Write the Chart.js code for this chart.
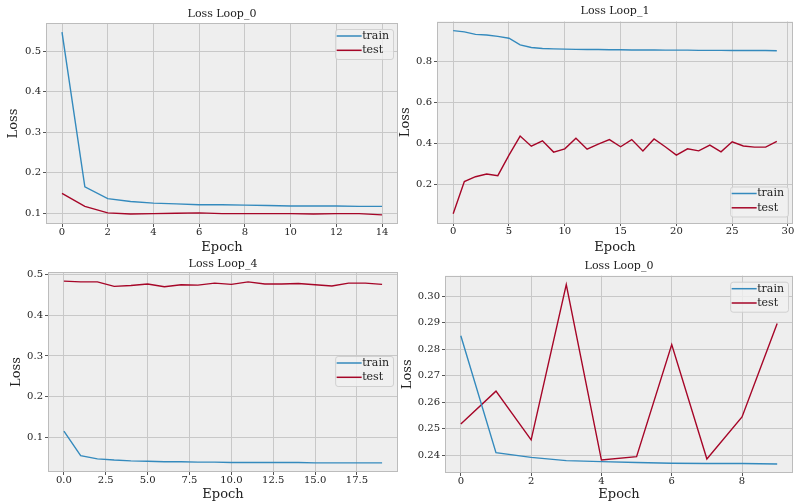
<!DOCTYPE html>
<html>
<head>
<meta charset="utf-8">
<script src="https://cdn.jsdelivr.net/npm/chart.js@4.4.1/dist/chart.umd.min.js"></script>
<style>
  html, body { margin: 0; padding: 0; background: #fff; }
  body { width: 795px; height: 503px; position: relative; overflow: hidden; }
  canvas { position: absolute; }
</style>
</head>
<body>
<canvas id="c1" width="400" height="255" style="left:0;top:0"></canvas>
<canvas id="c3" width="400" height="248" style="left:0;top:255px"></canvas>
<canvas id="c2" width="400" height="255" style="left:395px;top:0"></canvas>
<canvas id="c4" width="400" height="248" style="left:395px;top:255px"></canvas>
<script>
// ---- data ----
const loop0Train = [0.547, 0.165, 0.136, 0.129, 0.125, 0.123, 0.121, 0.121, 0.120, 0.119, 0.118, 0.118, 0.118, 0.117, 0.117];
const loop0Test  = [0.149, 0.117, 0.101, 0.098, 0.099, 0.100, 0.101, 0.099, 0.099, 0.099, 0.099, 0.098, 0.099, 0.099, 0.096];

const loop1Train = [0.949, 0.943, 0.931, 0.928, 0.921, 0.912, 0.880, 0.867, 0.862, 0.860, 0.859, 0.858, 0.857, 0.857, 0.856,
                    0.856, 0.855, 0.855, 0.855, 0.854, 0.854, 0.854, 0.853, 0.853, 0.853, 0.852, 0.852, 0.852, 0.852, 0.851];
const loop1Test  = [0.056, 0.213, 0.237, 0.250, 0.242, 0.342, 0.435, 0.386, 0.412, 0.357, 0.373, 0.425, 0.371, 0.396, 0.418,
                    0.383, 0.418, 0.362, 0.421, 0.383, 0.342, 0.373, 0.363, 0.391, 0.358, 0.407, 0.387, 0.381, 0.381, 0.409];

const loop4Train = [0.115, 0.055, 0.047, 0.044, 0.042, 0.041, 0.040, 0.040, 0.039, 0.039, 0.038, 0.038, 0.038, 0.038, 0.038,
                    0.037, 0.037, 0.037, 0.037, 0.037];
const loop4Test  = [0.484, 0.482, 0.482, 0.471, 0.473, 0.477, 0.470, 0.475, 0.474, 0.479, 0.476, 0.482, 0.477, 0.477, 0.478,
                    0.475, 0.472, 0.479, 0.479, 0.476];

const loop0bTrain = [0.2850, 0.2409, 0.2391, 0.2379, 0.2375, 0.2372, 0.2369, 0.2368, 0.2368, 0.2366];
const loop0bTest  = [0.2517, 0.2641, 0.2457, 0.3043, 0.2381, 0.2394, 0.2817, 0.2385, 0.2544, 0.2896];

const xTicks1 = [0, 2, 4, 6, 8, 10, 12, 14];
const yTicks1 = [0.1, 0.2, 0.3, 0.4, 0.5];
const xTicks2 = [0, 5, 10, 15, 20, 25, 30];
const yTicks2 = [0.2, 0.4, 0.6, 0.8];
const xTicks3 = [0, 2.5, 5, 7.5, 10, 12.5, 15, 17.5];
const yTicks3 = [0.1, 0.2, 0.3, 0.4, 0.5];
const xTicks4 = [0, 2, 4, 6, 8];
const yTicks4 = [0.24, 0.25, 0.26, 0.27, 0.28, 0.29, 0.30];

const BLUE = '#348ABD';
const RED = '#A60628';
const FONT = '"DejaVu Serif", serif';
const TXT = '#222';

// matplotlib-like 5% margin around the data
function pad(lo, hi) {
  const m = (hi - lo) * 0.05;
  return [lo - m, hi + m];
}

const frame = {
  id: 'frame',
  beforeDraw(chart) {
    const a = chart.chartArea, ctx = chart.ctx;
    ctx.save();
    ctx.fillStyle = '#eeeeee';
    ctx.fillRect(a.left, a.top, a.right - a.left, a.bottom - a.top);
    ctx.restore();
  },
  afterDatasetsDraw(chart) {
    const a = chart.chartArea, ctx = chart.ctx;
    ctx.save();
    ctx.strokeStyle = '#bcbcbc';
    ctx.lineWidth = 1;
    ctx.strokeRect(Math.round(a.left) + 0.5, Math.round(a.top) + 0.5,
                   Math.round(a.right - a.left) - 1, Math.round(a.bottom - a.top) - 1);
    ctx.restore();
  }
};

const boxLegend = {
  id: 'boxLegend',
  afterDraw(chart, args, opts) {
    const {ctx, chartArea: a} = chart;
    const sets = chart.data.datasets;
    ctx.save();
    ctx.font = '11px ' + FONT;
    const tw = Math.max(...sets.map(d => ctx.measureText(d.label).width));
    const w = 27 + tw + 4, h = 30;
    const x = a.right - 5 - w;
    let y;
    if (opts.where === 'ur') y = a.top + 6;
    else if (opts.where === 'lr') y = a.bottom - 6.5 - h;
    else y = (a.top + a.bottom) / 2 - h / 2 - 1;
    ctx.beginPath();
    ctx.roundRect(x + 0.5, y + 0.5, w, h, 2.5);
    ctx.fillStyle = 'rgba(240,240,240,0.8)';
    ctx.fill();
    ctx.strokeStyle = 'rgba(205,205,205,0.9)';
    ctx.lineWidth = 1;
    ctx.stroke();
    sets.forEach((d, i) => {
      const ly = y + 7 + i * 14.3;
      ctx.beginPath();
      ctx.moveTo(x + 1.5, ly);
      ctx.lineTo(x + 26.5, ly);
      ctx.strokeStyle = d.borderColor;
      ctx.lineWidth = 1.5;
      ctx.stroke();
      ctx.fillStyle = TXT;
      ctx.textBaseline = 'middle';
      ctx.textAlign = 'left';
      ctx.fillText(d.label, x + 27, ly);
    });
    ctx.restore();
  }
};

function makeChart(id, cfg) {
  const yr = pad(Math.min(...cfg.train, ...cfg.test), Math.max(...cfg.train, ...cfg.test));
  const n = cfg.train.length - 1;
  const xm = n * 0.05;
  const pts = arr => arr.map((v, i) => ({x: i, y: v}));
  const gridOpts = {color: '#c8c8c8', lineWidth: 1, tickColor: '#555', tickLength: 3, tickWidth: 1};
  return new Chart(document.getElementById(id), {
    type: 'line',
    data: {
      datasets: [
        {label: 'train', data: pts(cfg.train), borderColor: BLUE, borderWidth: 1.4, pointRadius: 0, tension: 0},
        {label: 'test', data: pts(cfg.test), borderColor: RED, borderWidth: 1.4, pointRadius: 0, tension: 0}
      ]
    },
    options: {
      responsive: false,
      animation: false,
      events: [],
      layout: {padding: {left: 0, top: 0, right: cfg.rightPad, bottom: 0}},
      scales: {
        x: {
          type: 'linear',
          min: -xm, max: n + xm,
          afterBuildTicks: s => { s.ticks = cfg.xTicks.map(v => ({value: v})); },
          afterFit: s => { s.height = cfg.xH; },
          grid: gridOpts,
          border: {display: false},
          ticks: {
            font: {family: FONT, size: 10, lineHeight: 1}, color: TXT, padding: 0, maxRotation: 0,
            callback: v => cfg.xFmt(v)
          },
          title: {display: true, text: 'Epoch', color: TXT, font: {family: FONT, size: 13, lineHeight: 1.2},
                  padding: {top: 0, bottom: cfg.xTitlePad}}
        },
        y: {
          type: 'linear',
          min: yr[0], max: yr[1],
          afterBuildTicks: s => { s.ticks = cfg.yTicks.map(v => ({value: v})); },
          afterFit: s => { s.width = cfg.yW; },
          grid: gridOpts,
          border: {display: false},
          ticks: {
            font: {family: FONT, size: 10}, color: TXT, padding: 2,
            callback: v => v.toFixed(cfg.yDec)
          },
          title: {display: true, text: 'Loss', color: TXT, font: {family: FONT, size: 13, lineHeight: 1.2},
                  padding: {top: cfg.yTitlePad, bottom: 0}}
        }
      },
      plugins: {
        legend: {display: false},
        tooltip: {enabled: false},
        title: {
          display: true, text: cfg.title, fullSize: false, color: TXT,
          font: {family: FONT, size: 11, weight: 'normal', lineHeight: 1.2},
          padding: {top: cfg.tTop, bottom: cfg.tBot}
        },
        boxLegend: {where: cfg.legend}
      }
    },
    plugins: [frame, boxLegend]
  });
}

// top left
makeChart('c1', {
  train: loop0Train, test: loop0Test, title: 'Loss Loop_0',
  xTicks: xTicks1, yTicks: yTicks1, xFmt: v => String(v), yDec: 1,
  yW: 46, xH: 31, rightPad: 2, tTop: 7.1, tBot: 2.7, yTitlePad: 5.9, xTitlePad: 0, legend: 'ur'
});
// top right
makeChart('c2', {
  train: loop1Train, test: loop1Test, title: 'Loss Loop_1',
  xTicks: xTicks2, yTicks: yTicks2, xFmt: v => String(v), yDec: 1,
  yW: 42, xH: 32, rightPad: 2, tTop: 4.6, tBot: 3.7, yTitlePad: 2.7, xTitlePad: 0, legend: 'lr'
});
// bottom left
makeChart('c3', {
  train: loop4Train, test: loop4Test, title: 'Loss Loop_4',
  xTicks: xTicks3, yTicks: yTicks3, xFmt: v => v.toFixed(1), yDec: 1,
  yW: 48, xH: 31, rightPad: 2, tTop: 2.2, tBot: 1.6, yTitlePad: 8.9, xTitlePad: 0.5, legend: 'cr'
});
// bottom right
makeChart('c4', {
  train: loop0bTrain, test: loop0bTest, title: 'Loss Loop_0',
  xTicks: xTicks4, yTicks: yTicks4, xFmt: v => String(v), yDec: 2,
  yW: 50, xH: 30, rightPad: 2, tTop: 4.4, tBot: 3.1, yTitlePad: 5, xTitlePad: 0.5, legend: 'ur'
});
</script>
</body>
</html>
